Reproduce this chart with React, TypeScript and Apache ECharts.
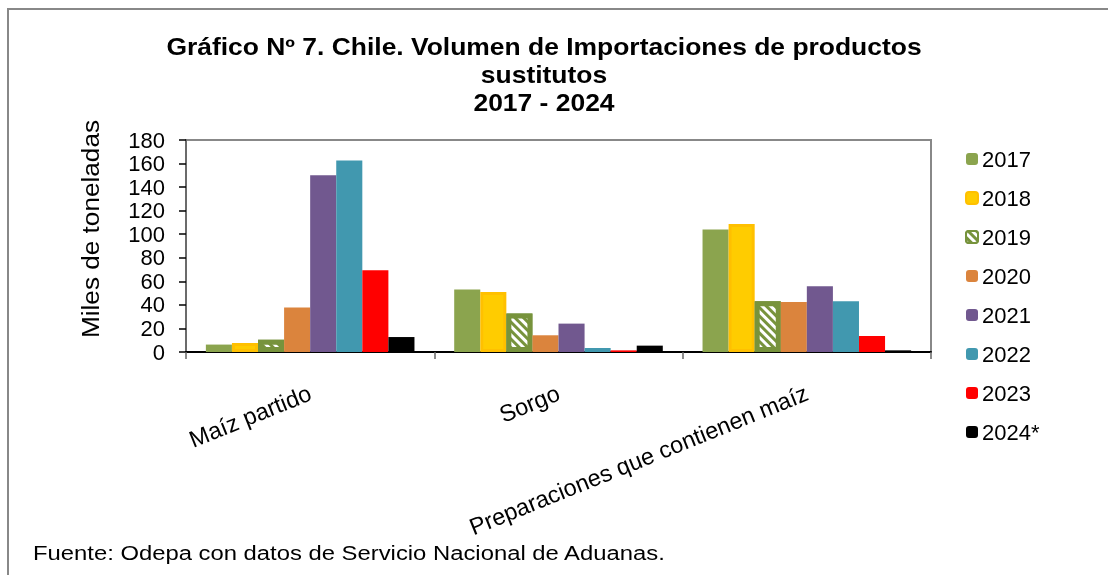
import React, { useEffect, useRef } from "react";
import * as echarts from "echarts";

const categories = ["Maíz partido", "Sorgo", "Preparaciones que contienen maíz"];
const years = ["2017", "2018", "2019", "2020", "2021", "2022", "2023", "2024*"];
const v2017 = [6.3, 53, 104];
const v2018 = [7.6, 51, 108.6];
const v2019 = [10.5, 32.6, 43];
const v2020 = [37.7, 14.2, 42.5];
const v2021 = [150, 24.1, 55.9];
const v2022 = [162.7, 3.4, 43];
const v2023 = [69.4, 1.4, 13.6];
const v2024 = [12.7, 5.4, 1.4];
const yTicks = [0, 20, 40, 60, 80, 100, 120, 140, 160, 180];

const seriesValues = [v2017, v2018, v2019, v2020, v2021, v2022, v2023, v2024];
const colors = ["#8BA44E", "#FFCC00", "#77933C", "#DB843D", "#71588F", "#4198AF", "#FF0000", "#000000"];

const FONT = "Liberation Sans, Arial, sans-serif";

export default function App() {
  const ref = useRef<HTMLDivElement>(null);
  useEffect(() => {
    const chart = echarts.init(ref.current!, null, { renderer: "svg" });
    const series = years.map((y, i) => {
      const itemStyle: any = { color: colors[i] };
      if (i === 1) {
        itemStyle.borderColor = "#FFC000";
        itemStyle.borderWidth = 3;
      }
      if (i === 2) {
        itemStyle.borderColor = "#77933C";
        itemStyle.borderWidth = 5;
        itemStyle.decal = {
          symbol: "rect",
          symbolSize: 1,
          color: "#ffffff",
          dashArrayX: [[1, 0]],
          dashArrayY: [3, 3],
          rotation: Math.PI / 4,
        };
      }
      return {
        name: y,
        type: "bar",
        data: seriesValues[i],
        barGap: "0%",
        barCategoryGap: "16%",
        itemStyle,
      };
    });
    chart.setOption({
      animation: false,
      grid: { left: 186, right: 177, top: 140, bottom: 223, show: true, borderColor: "#888", borderWidth: 2 },
      legend: {
        orient: "vertical",
        left: 960,
        top: 143,
        itemWidth: 12,
        itemHeight: 12,
        itemGap: 17,
        textStyle: { fontFamily: FONT, fontSize: 22, color: "#000", padding: [0, 0, 0, -1] },
        data: years,
      },
      xAxis: {
        type: "category",
        data: categories,
        axisLine: { lineStyle: { color: "#000", width: 2 } },
        axisTick: { show: true, length: 7, lineStyle: { color: "#666", width: 1.5 } },
        axisLabel: { rotate: 22, fontFamily: FONT, fontSize: 23.5, color: "#000", margin: 40, interval: 0 },
      },
      yAxis: {
        type: "value",
        min: 0,
        max: 180,
        interval: 20,
        splitLine: { show: false },
        axisLine: { show: true, lineStyle: { color: "#6b6b6b", width: 2 } },
        axisTick: { show: true, length: 7, lineStyle: { color: "#000", width: 1.5 } },
        axisLabel: { fontFamily: FONT, fontSize: 22, color: "#000", margin: 21, customValues: yTicks },
      },
      series,
      graphic: [
        {
          type: "rect",
          shape: { x: 8, y: 9, width: 1200, height: 700 },
          style: { fill: "none", stroke: "#888", lineWidth: 2 },
          silent: true,
        },
        {
          type: "text",
          x: 544,
          y: 33,
          scaleX: 1.15,
          style: {
            text: "Gráfico Nº 7. Chile. Volumen de Importaciones de productos\nsustitutos\n2017 - 2024",
            fontFamily: FONT,
            fontWeight: "bold",
            fontSize: 23,
            lineHeight: 28,
            align: "center",
            verticalAlign: "top",
            fill: "#000",
          },
        },
        {
          type: "text",
          x: 90,
          y: 229,
          rotation: Math.PI / 2,
          scaleX: 1.09,
          style: {
            text: "Miles de toneladas",
            fontFamily: FONT,
            fontSize: 24,
            align: "center",
            verticalAlign: "middle",
            fill: "#000",
          },
        },
        {
          type: "text",
          x: 33,
          y: 553,
          scaleX: 1.135,
          style: {
            text: "Fuente: Odepa con datos de Servicio Nacional de Aduanas.",
            fontFamily: FONT,
            fontSize: 21,
            align: "left",
            verticalAlign: "middle",
            fill: "#000",
          },
        },
      ],
    });
    return () => chart.dispose();
  }, []);
  return <div ref={ref} style={{ position: "fixed", left: 0, top: 0, width: 1108, height: 575 }} />;
}
